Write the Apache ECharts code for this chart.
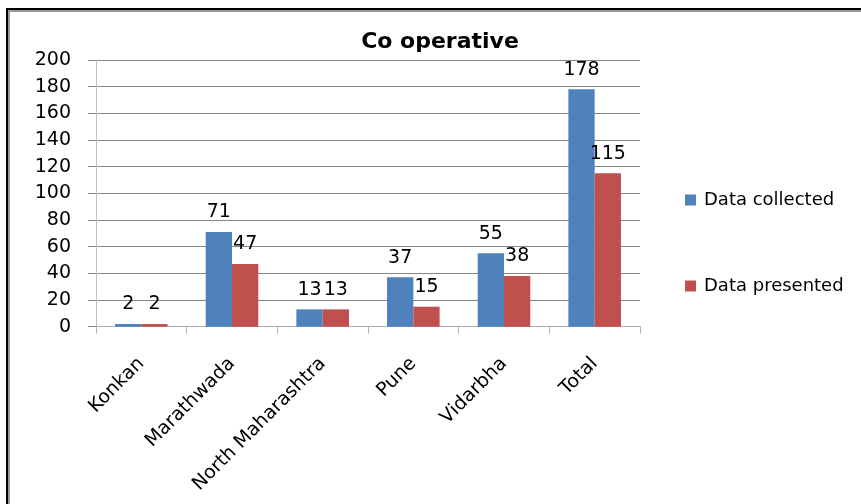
<!DOCTYPE html>
<html>
<head>
<meta charset="utf-8">
<script src="https://cdn.jsdelivr.net/npm/echarts@6/dist/echarts.min.js"></script>
<style>
html,body{margin:0;padding:0;background:#fff;}
#c{width:861px;height:504px;}
</style>
</head>
<body>
<div id="c"></div>
<script>
var titleText = 'Co operative';
var categories = ['Konkan', 'Marathwada', 'North Maharashtra', 'Pune', 'Vidarbha', 'Total'];
var seriesNames = ['Data collected', 'Data presented'];
var dataCollected = [2, 71, 13, 37, 55, 178];
var dataPresented = [2, 47, 13, 15, 38, 115];
var yTicks = {min: 0, max: 200, interval: 20};

var FONT = 'DejaVu Sans';
var chart = echarts.init(document.getElementById('c'), null, {renderer: 'canvas'});
var labelCfg = {show: true, position: 'top', distance: 10, color: '#000', fontFamily: FONT, fontSize: 19};
chart.setOption({
  animation: false,
  backgroundColor: '#fff',
  title: {
    text: titleText, left: 440, top: 31, textAlign: 'center', padding: 0,
    textStyle: {fontFamily: FONT, fontWeight: 'bold', fontSize: 22, color: '#000'}
  },
  grid: {left: 96, right: 221, top: 60, bottom: 177.3, containLabel: false},
  legend: {
    orient: 'vertical', left: 685, top: 191, padding: 0, itemWidth: 11, itemHeight: 11, itemGap: 68,
    icon: 'rect',
    textStyle: {fontFamily: FONT, fontSize: 18, color: '#000', padding: [0,0,0,3]},
    data: seriesNames
  },
  xAxis: {
    type: 'category', data: categories,
    axisLine: {lineStyle: {color: '#b0b0b0', width: 1}},
    axisTick: {show: true, length: 7, lineStyle: {color: '#b0b0b0'}},
    axisLabel: {rotate: 45, margin: 34, interval: 0, fontFamily: FONT, fontSize: 19, color: '#000'}
  },
  yAxis: {
    type: 'value', min: yTicks.min, max: yTicks.max, interval: yTicks.interval,
    axisLine: {show: true, lineStyle: {color: '#c0c0c0'}},
    axisTick: {show: true, length: 8, lineStyle: {color: '#868686'}},
    splitLine: {show: true, lineStyle: {color: '#868686'}},
    axisLabel: {margin: 25, fontFamily: FONT, fontSize: 19, color: '#000'}
  },
  series: [
    {name: seriesNames[0], type: 'bar', data: dataCollected, barGap: '0%', barCategoryGap: '42%',
     itemStyle: {color: '#4F81BD'}, label: labelCfg},
    {name: seriesNames[1], type: 'bar', data: dataPresented, barGap: '0%', barCategoryGap: '42%',
     itemStyle: {color: '#C0504D'}, label: labelCfg}
  ],
  graphic: [
    {type: 'rect', shape: {x: 6, y: 8, width: 855, height: 2}, style: {fill: '#000'}, z: 100},
    {type: 'rect', shape: {x: 8, y: 10, width: 853, height: 2}, style: {fill: '#999'}, z: 100},
    {type: 'rect', shape: {x: 6, y: 8, width: 2, height: 496}, style: {fill: '#000'}, z: 100},
    {type: 'rect', shape: {x: 8, y: 10, width: 2, height: 494}, style: {fill: '#999'}, z: 100}
  ]
});
</script>
</body>
</html>
